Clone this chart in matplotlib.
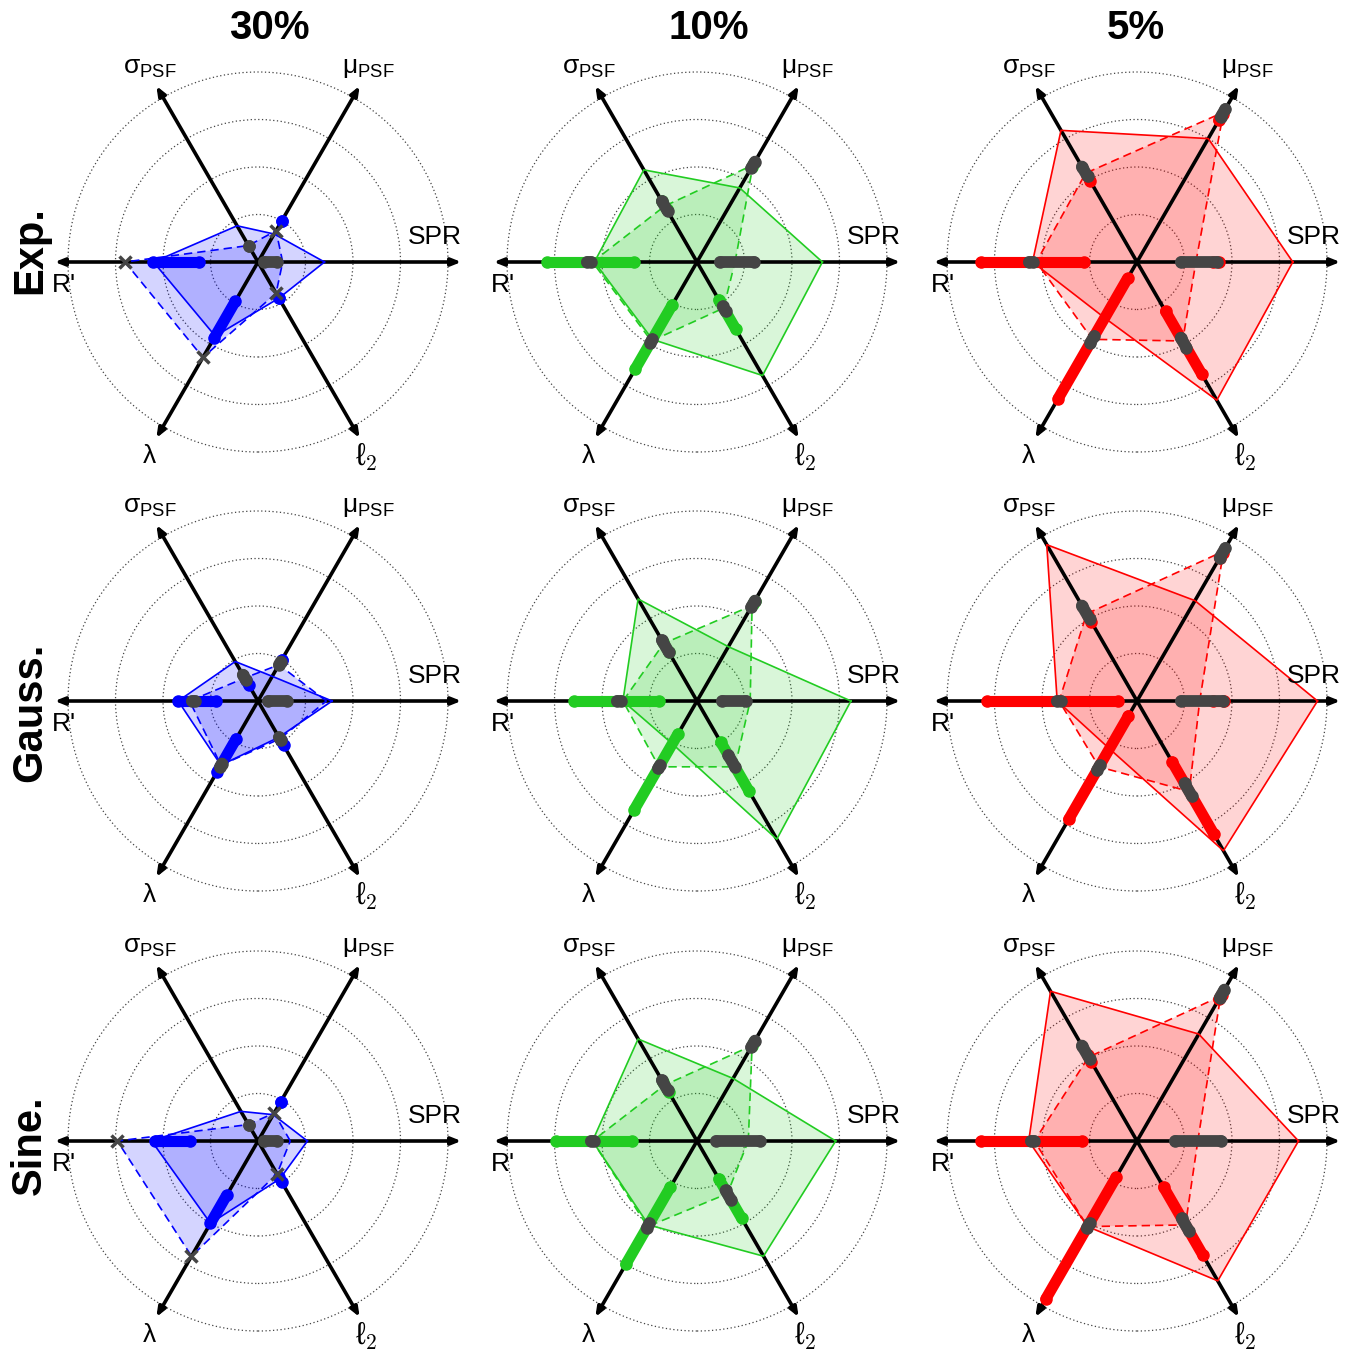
"""
Radar charts: parameter estimates for three noise levels (columns)
and three signal shapes (rows).
"""

import numpy as np
import matplotlib.pyplot as plt
from matplotlib.patches import Circle

plt.rcParams["font.family"] = ["Liberation Sans", "DejaVu Sans"]
plt.rcParams["mathtext.default"] = "regular"

# ---------------------------------------------------------------------------
# Data (radii normalised so the outer dotted ring is 1.0)
# axis order: SPR, mu_PSF, sigma_PSF, R', lambda, l2
# ---------------------------------------------------------------------------

COL_TITLES = ["30%", "10%", "5%"]
ROW_TITLES = ["Exp.", "Gauss.", "Sine."]
COL_COLORS = ["#0000ff", "#22cc22", "#ff0000"]
AXIS_LABELS = ["SPR", r"$\mu_{PSF}$", r"$\sigma_{PSF}$", "R'", r"$\lambda$", r"$\ell_{\mathsf{2}}$"]
AXIS_ANGLES = [0, 60, 120, 180, 240, 300]
RINGS = [0.25, 0.5, 0.75, 1.0]

# solid polygons, one list per column
EXP_SOLID = [[0.35, 0.17, 0.22, 0.55, 0.45, 0.22],
             [0.66, 0.45, 0.56, 0.54, 0.47, 0.69],
             [0.82, 0.75, 0.80, 0.55, 0.34, 0.84]]
GAUSS_SOLID = [[0.39, 0.15, 0.24, 0.42, 0.39, 0.22],
               [0.81, 0.33, 0.62, 0.39, 0.26, 0.84],
               [0.95, 0.61, 0.95, 0.42, 0.29, 0.91]]
SINE_SOLID = [[0.26, 0.16, 0.18, 0.56, 0.50, 0.23],
              [0.73, 0.38, 0.62, 0.55, 0.51, 0.70],
              [0.85, 0.65, 0.91, 0.57, 0.52, 0.85]]

# dashed polygons
EXP_DASHED = [[0.13, 0.19, 0.10, 0.70, 0.58, 0.19],
              [0.20, 0.59, 0.34, 0.55, 0.48, 0.28],
              [0.31, 0.91, 0.54, 0.53, 0.47, 0.48]]
GAUSS_DASHED = [[0.36, 0.22, 0.14, 0.36, 0.39, 0.23],
                [0.28, 0.58, 0.35, 0.39, 0.40, 0.40],
                [0.33, 0.91, 0.53, 0.41, 0.40, 0.55]]
SINE_DASHED = [[0.17, 0.17, 0.10, 0.74, 0.70, 0.20],
               [0.27, 0.58, 0.34, 0.55, 0.52, 0.32],
               [0.32, 0.88, 0.51, 0.54, 0.52, 0.51]]

# spread of the coloured estimates along each axis (low, high)
EXP_SPREAD = [[None, (0.25, 0.25), None, (0.31, 0.55), (0.24, 0.46), (0.22, 0.22)],
              [None, (0.58, 0.60), (0.32, 0.37), (0.33, 0.79), (0.26, 0.65), (0.23, 0.41)],
              [(0.40, 0.43), (0.86, 0.90), (0.49, 0.53), (0.28, 0.82), (0.10, 0.83), (0.30, 0.68)]]
GAUSS_SPREAD = [[None, (0.25, 0.25), (0.10, 0.13), (0.22, 0.42), (0.23, 0.43), (0.24, 0.27)],
                [None, (0.59, 0.61), (0.30, 0.36), (0.20, 0.65), (0.20, 0.66), (0.25, 0.55)],
                [(0.40, 0.46), (0.87, 0.90), (0.48, 0.52), (0.10, 0.79), (0.09, 0.72), (0.37, 0.81)]]
SINE_SPREAD = [[None, (0.24, 0.24), None, (0.36, 0.54), (0.33, 0.50), (0.22, 0.25)],
               [None, (0.58, 0.60), (0.30, 0.36), (0.34, 0.74), (0.28, 0.75), (0.23, 0.47)],
               [None, (0.86, 0.89), (0.48, 0.52), (0.29, 0.82), (0.22, 0.96), (0.28, 0.69)]]

# spread of the grey estimates along each axis (low, high)
EXP_GRAY = [[(0.03, 0.10), None, (0.10, 0.10), None, None, None],
            [(0.12, 0.30), (0.57, 0.61), (0.31, 0.37), (0.56, 0.58), (0.47, 0.49), (0.27, 0.30)],
            [(0.23, 0.42), (0.88, 0.93), (0.52, 0.58), (0.55, 0.57), (0.45, 0.49), (0.46, 0.52)]]
GAUSS_GRAY = [[(0.05, 0.15), (0.22, 0.24), (0.13, 0.16), (0.33, 0.35), (0.38, 0.40), (0.22, 0.24)],
              [(0.13, 0.26), (0.57, 0.61), (0.30, 0.37), (0.40, 0.42), (0.39, 0.41), (0.33, 0.40)],
              [(0.23, 0.45), (0.87, 0.93), (0.50, 0.58), (0.40, 0.42), (0.39, 0.42), (0.50, 0.58)]]
SINE_GRAY = [[(0.03, 0.10), None, (0.10, 0.10), None, None, None],
             [(0.10, 0.33), (0.57, 0.61), (0.31, 0.37), (0.54, 0.56), (0.50, 0.53), (0.30, 0.36)],
             [(0.20, 0.44), (0.87, 0.92), (0.50, 0.58), (0.54, 0.56), (0.50, 0.53), (0.47, 0.55)]]

# grey cross markers (30% column only)
EXP_CROSS = [None, 0.19, None, 0.70, 0.58, 0.19]
GAUSS_CROSS = [None, None, None, None, None, None]
SINE_CROSS = [None, 0.17, None, 0.74, 0.70, 0.20]

SOLID = [EXP_SOLID, GAUSS_SOLID, SINE_SOLID]
DASHED = [EXP_DASHED, GAUSS_DASHED, SINE_DASHED]
SPREAD = [EXP_SPREAD, GAUSS_SPREAD, SINE_SPREAD]
GRAY = [EXP_GRAY, GAUSS_GRAY, SINE_GRAY]
CROSS = [EXP_CROSS, GAUSS_CROSS, SINE_CROSS]

# ---------------------------------------------------------------------------
# Layout (pixels of the 1358 x 1351 canvas)
# ---------------------------------------------------------------------------

W, H = 1358, 1351
COL_X = [258, 697, 1137]
ROW_Y = [262, 701, 1141]
TITLE_X = [269, 709, 1136]
ROW_LABEL_Y = [250, 712, 1145]
UNIT = 190          # pixels per unit radius
HALF = 220          # half size of each panel in pixels
GRAY_C = "#454545"

# label centres in data units
LABEL_POS = [(0.93, 0.13), (0.58, 1.02), (-0.57, 1.02),
             (-1.02, -0.12), (-0.57, -1.02), (0.57, -1.03)]


def polar_xy(r, deg):
    a = np.deg2rad(deg)
    return r * np.cos(a), r * np.sin(a)


def draw_panel(ax, solid, dashed, spread, gray, cross, color):
    lim = HALF / UNIT
    ax.set_xlim(-lim, lim)
    ax.set_ylim(-lim, lim)
    ax.set_aspect("equal")
    ax.axis("off")

    for r in RINGS:
        ax.add_patch(Circle((0, 0), r, fill=False, ls=(0, (1, 2)),
                            lw=0.9, color="#444444", zorder=1))

    angles = AXIS_ANGLES + AXIS_ANGLES[:1]

    # filled polygons
    for vals, ls in ((solid, "-"), (dashed, (0, (5, 3)))):
        rr = list(vals) + [vals[0]]
        xs, ys = polar_xy(np.array(rr), np.array(angles))
        ax.fill(xs, ys, color=color, alpha=0.17, lw=0, zorder=1.5)
        ax.plot(xs, ys, color=color, lw=1.2, ls=ls, zorder=2.5)

    # axes: three double headed arrows through the centre
    for deg in AXIS_ANGLES[:3]:
        ax.annotate("", xy=polar_xy(1.07, deg), xytext=polar_xy(1.07, deg + 180),
                    arrowprops=dict(arrowstyle="<|-|>,head_length=0.55,head_width=0.22",
                                    lw=2.6, color="k", shrinkA=0, shrinkB=0),
                    zorder=2)

    # estimate clouds
    for deg, sp, gr, cr in zip(AXIS_ANGLES, spread, gray, cross):
        if sp is not None:
            x0, y0 = polar_xy(sp[0], deg)
            x1, y1 = polar_xy(sp[1], deg)
            ax.plot([x0, x1], [y0, y1], color=color, lw=8,
                    solid_capstyle="round", zorder=3)
            ax.plot([x0, x1], [y0, y1], "o", color=color, ms=8, zorder=3)
        if gr is not None:
            x0, y0 = polar_xy(gr[0], deg)
            x1, y1 = polar_xy(gr[1], deg)
            ax.plot([x0, x1], [y0, y1], color=GRAY_C, lw=8.5,
                    solid_capstyle="round", zorder=4)
            ax.plot([x0, x1], [y0, y1], "o", color=GRAY_C, ms=8, zorder=4)
        if cr is not None:
            xc, yc = polar_xy(cr, deg)
            ax.plot(xc, yc, "x", color=GRAY_C, ms=8, mew=2.5, zorder=4)

    for k, (label, (lx, ly)) in enumerate(zip(AXIS_LABELS, LABEL_POS)):
        if k == 5:
            # script ell as in the original
            ax.text(lx, ly, label, fontsize=22, ha="center", va="center",
                    math_fontfamily="cm", zorder=5)
        else:
            ax.text(lx, ly, label, fontsize=19, ha="center", va="center", zorder=5)


def main():
    fig = plt.figure(figsize=(W / 100, H / 100), dpi=100)

    for i in range(3):
        for j in range(3):
            cx, cy = COL_X[j], ROW_Y[i]
            ax = fig.add_axes([(cx - HALF) / W, 1 - (cy + HALF) / H,
                               2 * HALF / W, 2 * HALF / H])
            ax.patch.set_alpha(0)
            draw_panel(ax, SOLID[i][j], DASHED[i][j], SPREAD[i][j],
                       GRAY[i][j], CROSS[i] if j == 0 else [None] * 6,
                       COL_COLORS[j])

    for j, title in enumerate(COL_TITLES):
        fig.text(TITLE_X[j] / W, 1 - 28 / H, title, fontsize=29,
                 fontweight="bold", ha="center", va="center")
    for i, title in enumerate(ROW_TITLES):
        fig.text(30 / W, 1 - ROW_LABEL_Y[i] / H, title, fontsize=30,
                 fontweight="bold", ha="center", va="center", rotation=90)

    fig.savefig("out.png", dpi=100)


if __name__ == "__main__":
    main()
